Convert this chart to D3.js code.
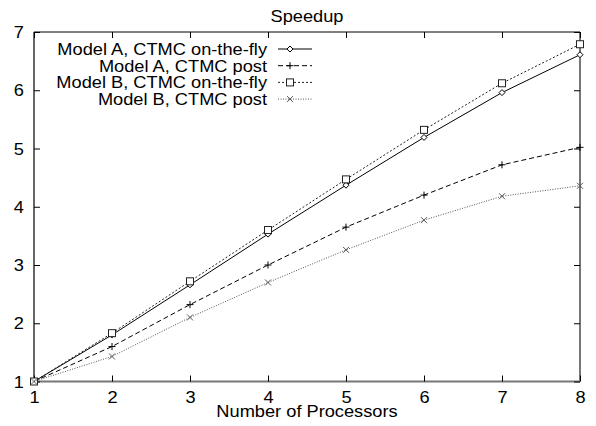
<!DOCTYPE html>
<html>
<head>
<meta charset="utf-8">
<script src="https://cdn.jsdelivr.net/npm/d3@7"></script>
<style>
  body { margin: 0; background: #fff; }
  text { font-family: "Liberation Sans", Arial, sans-serif; fill: #000; }
</style>
</head>
<body>
<script>
(function (d3) {
    "use strict";

    /***** Data *****/
    var processors = [1, 2, 3, 4, 5, 6, 7, 8];
    var seriesNames = [
        "Model A, CTMC on-the-fly",
        "Model A, CTMC post",
        "Model B, CTMC on-the-fly",
        "Model B, CTMC post"
    ];
    var modelAOnTheFly = [1, 1.80, 2.66, 3.53, 4.37, 5.19, 5.96, 6.61];
    var modelAPost     = [1, 1.60, 2.32, 3.00, 3.65, 4.20, 4.72, 5.02];
    var modelBOnTheFly = [1, 1.83, 2.72, 3.60, 4.47, 5.32, 6.12, 6.79];
    var modelBPost     = [1, 1.43, 2.10, 2.70, 3.26, 3.77, 4.18, 4.36];
    var xTicks = [1, 2, 3, 4, 5, 6, 7, 8];
    var yTicks = [1, 2, 3, 4, 5, 6, 7];

    /***** Configuration *****/
    var width = 596, height = 426;
    var margin = { top: 32, right: 16, bottom: 44.5, left: 34 };
    var chartWidth = width - margin.left - margin.right;
    var chartHeight = height - margin.top - margin.bottom;
    var fontSize = 16;
    var stretch = 1.14;   // the original font is wider than Liberation Sans

    var styles = [
        { dash: null, color: "#000", marker: "diamond" },
        { dash: "5,3", color: "#000", marker: "plus" },
        { dash: "2,2", color: "#222", marker: "square" },
        { dash: "1,1.5", color: "#555", marker: "cross" }
    ];
    var allSeries = [modelAOnTheFly, modelAPost, modelBOnTheFly, modelBPost];

    /***** Scales *****/
    var xScale = d3.scaleLinear().domain([1, 8]).range([0, chartWidth]);
    var yScale = d3.scaleLinear().domain([1, 7]).range([chartHeight, 0]);

    var svg = d3.select("body").append("svg")
        .attr("width", width)
        .attr("height", height);

    var g = svg.append("g")
        .attr("transform", "translate(" + margin.left + "," + margin.top + ")");

    function addText(parent, x, y, str, anchor) {
        return parent.append("text")
            .attr("transform", "translate(" + x + "," + y + ") scale(" + stretch + ",1)")
            .attr("text-anchor", anchor)
            .attr("font-size", fontSize)
            .text(str);
    }

    /***** Border and inward ticks *****/
    g.append("line").attr("x1", 0).attr("x2", chartWidth).attr("y1", 0).attr("y2", 0)
        .attr("stroke", "#000").attr("stroke-width", 1);
    g.append("line").attr("x1", 0).attr("x2", 0).attr("y1", 0).attr("y2", chartHeight)
        .attr("stroke", "#000").attr("stroke-width", 1.2);
    g.append("line").attr("x1", 0).attr("x2", chartWidth).attr("y1", chartHeight).attr("y2", chartHeight)
        .attr("stroke", "#777").attr("stroke-width", 2);
    g.append("line").attr("x1", chartWidth).attr("x2", chartWidth).attr("y1", 0).attr("y2", chartHeight)
        .attr("stroke", "#777").attr("stroke-width", 2);

    var tickLen = 6;
    var fmt = d3.format("d");
    var bottomAxis = d3.axisBottom(xScale).tickValues(xTicks).tickFormat(fmt).tickSizeInner(-tickLen).tickSizeOuter(0);
    var topAxis = d3.axisTop(xScale).tickValues(xTicks).tickSizeInner(-tickLen).tickSizeOuter(0).tickFormat("");
    var leftAxis = d3.axisLeft(yScale).tickValues(yTicks).tickFormat(fmt).tickSizeInner(-tickLen).tickSizeOuter(0);
    var rightAxis = d3.axisRight(yScale).tickValues(yTicks).tickSizeInner(-tickLen).tickSizeOuter(0).tickFormat("");

    function styleAxis(sel) {
        sel.select(".domain").remove();
        sel.selectAll(".tick line").attr("stroke", "#000");
        sel.selectAll(".tick text").attr("font-size", fontSize).attr("fill", "#000")
            .attr("font-family", "Liberation Sans, Arial, sans-serif");
    }

    g.append("g").attr("transform", "translate(0," + chartHeight + ")").call(bottomAxis).call(styleAxis)
        .selectAll(".tick text")
        .attr("y", 0).attr("dy", null)
        .attr("transform", "translate(0,21.5) scale(" + stretch + ",1)");
    g.append("g").call(topAxis).call(styleAxis);
    g.append("g").call(leftAxis).call(styleAxis)
        .selectAll(".tick text")
        .attr("x", 0).attr("dy", null)
        .attr("transform", "translate(-10,5.5) scale(" + stretch + ",1)");
    g.append("g").attr("transform", "translate(" + chartWidth + ",0)").call(rightAxis).call(styleAxis);

    /***** Markers *****/
    function drawMarker(sel, type, color) {
        if (type === "diamond") {
            sel.append("path").attr("d", "M0,-3L3,0L0,3L-3,0Z")
                .attr("fill", "#fff").attr("stroke", color).attr("stroke-width", 1);
        } else if (type === "plus") {
            sel.append("path").attr("d", "M-3.5,0H3.5M0,-3.5V3.5")
                .attr("stroke", color).attr("stroke-width", 1);
        } else if (type === "square") {
            sel.append("rect").attr("x", -3.5).attr("y", -3.5).attr("width", 7).attr("height", 7)
                .attr("fill", "#fff").attr("stroke", color).attr("stroke-width", 1);
        } else if (type === "cross") {
            sel.append("path").attr("d", "M-3,-3L3,3M-3,3L3,-3")
                .attr("stroke", color).attr("stroke-width", 1);
        }
    }

    /***** Lines *****/
    var line = d3.line()
        .x(function (d, i) { return xScale(processors[i]); })
        .y(function (d) { return yScale(d); });

    allSeries.forEach(function (values, k) {
        var st = styles[k];
        g.append("path")
            .datum(values)
            .attr("d", line)
            .attr("fill", "none")
            .attr("stroke", st.color)
            .attr("stroke-width", 1)
            .attr("stroke-dasharray", st.dash);
        values.forEach(function (v, i) {
            var m = g.append("g")
                .attr("transform", "translate(" + xScale(processors[i]) + "," + yScale(v) + ")");
            drawMarker(m, st.marker, st.color);
        });
    });

    /***** Legend *****/
    var legend = svg.append("g").attr("transform", "translate(267,49)");
    seriesNames.forEach(function (name, k) {
        var st = styles[k];
        var row = legend.append("g").attr("transform", "translate(0," + (k * 16.7) + ")");
        addText(row, 0, 5.8, name, "end");
        row.append("line")
            .attr("x1", 11).attr("x2", 45).attr("y1", 0).attr("y2", 0)
            .attr("stroke", st.color)
            .attr("stroke-width", 1)
            .attr("stroke-dasharray", st.dash);
        drawMarker(row.append("g").attr("transform", "translate(23,0)"), st.marker, st.color);
    });

    /***** Titles *****/
    addText(svg, margin.left + chartWidth / 2, 21.5, "Speedup", "middle");
    addText(svg, margin.left + chartWidth / 2, 417, "Number of Processors", "middle");

})(d3);
</script>
</body>
</html>
